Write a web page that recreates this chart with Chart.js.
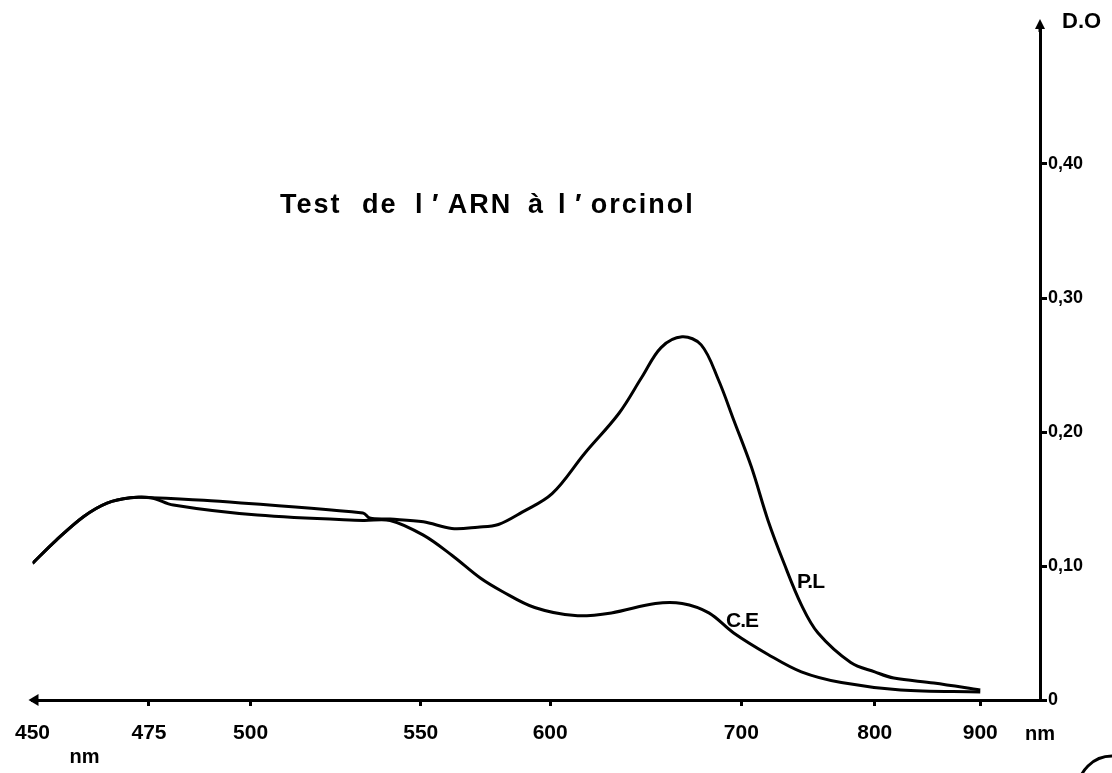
<!DOCTYPE html>
<html>
<head>
<meta charset="utf-8">
<script src="https://cdn.jsdelivr.net/npm/chart.js@4.4.1/dist/chart.umd.min.js"></script>
<style>
  html, body { margin: 0; padding: 0; background: #fff; }
  #wrap { width: 1112px; height: 773px; position: relative; }
  canvas { display: block; }
</style>
</head>
<body>
<div id="wrap"><canvas id="c" width="1112" height="773"></canvas></div>
<script>
// ---- Data ----
const titleWords = ["Test", "de", "l\u2009\u2032\u2009ARN", "à", "l\u2009\u2032\u2009orcinol"];
const xTickNm = [450, 475, 500, 550, 600, 700, 800, 900];
const xTickLabels = ["450", "475", "500", "550", "600", "700", "800", "900"];
const yTickValues = [0, 0.1, 0.2, 0.3, 0.4];

const plName = "P.L";
const plNm  = [450, 455, 461, 466, 471, 475.5, 488.5, 533, 535, 541, 551, 562, 572, 580, 589, 601, 618, 636, 648, 658, 669, 679, 688, 696, 707.5, 720, 732, 745, 757.5, 782, 800, 818, 856, 900];
const plVal = [0.102, 0.119, 0.137, 0.147, 0.151, 0.151, 0.149, 0.1396, 0.1358, 0.135, 0.133, 0.128, 0.129, 0.131, 0.140, 0.154, 0.184, 0.214, 0.241, 0.263, 0.271, 0.265, 0.239, 0.209, 0.174, 0.134, 0.102, 0.071, 0.050, 0.028, 0.021, 0.0164, 0.0127, 0.0075];

const ceName = "C.E";
const ceNm  = [450, 455, 461, 466, 471, 475.5, 481, 502, 533, 541, 551, 562, 573, 581.5, 594, 613, 632, 655, 669, 683, 696, 720, 745, 775, 824.5, 900];
const ceVal = [0.102, 0.119, 0.137, 0.147, 0.151, 0.151, 0.1455, 0.138, 0.134, 0.134, 0.123, 0.108, 0.091, 0.081, 0.069, 0.063, 0.065, 0.072, 0.072, 0.065, 0.050, 0.034, 0.021, 0.013, 0.0075, 0.006];

// ---- Non-uniform wavelength axis of the original (piecewise linear) ----
const axisStopNm  = [450, 475, 500, 550, 600, 700, 800, 900, 957];
const axisStopPos = [0, 117, 219, 390, 520, 712, 846, 952, 1012];
function nmToAxis(nm) {
  for (let i = 0; i < axisStopNm.length - 1; i++) {
    const a = axisStopNm[i], b = axisStopNm[i + 1];
    if (nm <= b || i === axisStopNm.length - 2) {
      const t = (nm - a) / (b - a);
      return axisStopPos[i] + t * (axisStopPos[i + 1] - axisStopPos[i]);
    }
  }
}
const toPoints = (xs, ys) => xs.map((nm, i) => ({ x: nmToAxis(nm), y: ys[i] }));

const FONT = "'Liberation Sans', Arial, Helvetica, sans-serif";
const titleX = [280, 362, 415, 528, 558];

const annotate = {
  id: 'annotate',
  afterDraw(chart) {
    const ctx = chart.ctx;
    const xs = chart.scales.x, ys = chart.scales.y;
    const x0 = xs.left, yAxisX = ys.left, base = ys.getPixelForValue(0), top = ys.top;
    ctx.save();
    ctx.fillStyle = '#000';
    ctx.strokeStyle = '#000';
    // left arrow on x axis
    ctx.beginPath();
    ctx.moveTo(x0 - 4, base);
    ctx.lineTo(x0 + 6, base - 6);
    ctx.lineTo(x0 + 6, base + 6);
    ctx.closePath();
    ctx.fill();
    // top arrow on y axis
    ctx.lineWidth = 3;
    ctx.beginPath();
    ctx.moveTo(yAxisX, top + 2);
    ctx.lineTo(yAxisX, top - 4);
    ctx.stroke();
    ctx.beginPath();
    ctx.moveTo(yAxisX, top - 11);
    ctx.lineTo(yAxisX - 5, top - 1);
    ctx.lineTo(yAxisX + 5, top - 1);
    ctx.closePath();
    ctx.fill();

    // title
    ctx.font = `bold 27px ${FONT}`;
    ctx.letterSpacing = '2px';
    ctx.textBaseline = 'alphabetic';
    ctx.textAlign = 'left';
    titleWords.forEach((w, i) => ctx.fillText(w, titleX[i], 213));
    ctx.letterSpacing = '0px';

    // axis unit labels
    ctx.font = `bold 22px ${FONT}`;
    ctx.textAlign = 'left';
    ctx.textBaseline = 'middle';
    ctx.fillText('D.O', yAxisX + 22, top - 8);
    ctx.textAlign = 'center';
    ctx.font = `bold 20px ${FONT}`;
    ctx.fillText('nm', x0 + 52, base + 57);
    ctx.fillText('nm', yAxisX, base + 34);

    // curve labels
    ctx.font = `bold 21px ${FONT}`;
    ctx.letterSpacing = '-1px';
    ctx.textAlign = 'left';
    ctx.fillText(plName, 797, 582);
    ctx.fillText(ceName, 726, 621);
    ctx.letterSpacing = '0px';

    // page mark circle (bottom right)
    ctx.lineWidth = 3;
    ctx.beginPath();
    ctx.arc(1112, 790, 34, Math.PI * 1.0, Math.PI * 1.5);
    ctx.stroke();
    ctx.restore();
  }
};

const lineStyle = { borderColor: '#000', borderWidth: 3, pointRadius: 0, fill: false, tension: 0.35 };

new Chart(document.getElementById('c'), {
  type: 'line',
  data: {
    datasets: [
      Object.assign({ label: plName, data: toPoints(plNm, plVal) }, lineStyle),
      Object.assign({ label: ceName, data: toPoints(ceNm, ceVal) }, lineStyle)
    ]
  },
  options: {
    responsive: false,
    animation: false,
    devicePixelRatio: 1,
    layout: { padding: { left: 28, top: 30, right: 0, bottom: 0 } },
    plugins: { legend: { display: false }, tooltip: { enabled: false }, title: { display: false } },
    scales: {
      x: {
        type: 'linear',
        min: 0,
        max: axisStopPos[axisStopPos.length - 1],
        afterBuildTicks(scale) { scale.ticks = xTickNm.map(nm => ({ value: nmToAxis(nm) })); },
        afterFit(scale) { scale.height = 73; },
        grid: {
          drawOnChartArea: false, drawTicks: true, tickLength: 6, lineWidth: 3,
          color: ctx => (ctx.index === 0 ? 'rgba(0,0,0,0)' : '#000')
        },
        border: { display: true, color: '#000', width: 3 },
        ticks: {
          autoSkip: false, maxRotation: 0, minRotation: 0, padding: 15, color: '#000',
          font: { family: FONT, size: 21, weight: 'bold' },
          callback: (v, i) => xTickLabels[i]
        }
      },
      y: {
        type: 'linear',
        position: 'right',
        min: 0,
        max: 0.5,
        afterBuildTicks(scale) { scale.ticks = yTickValues.map(v => ({ value: v })); },
        afterFit(scale) { scale.width = 72; },
        grid: { drawOnChartArea: false, drawTicks: true, tickLength: 7, lineWidth: 3, color: '#000' },
        border: { display: true, color: '#000', width: 3 },
        ticks: {
          padding: 1, color: '#000',
          font: { family: FONT, size: 18, weight: 'bold' },
          callback: v => (v === 0 ? '0' : v.toFixed(2).replace('.', ','))
        }
      }
    }
  },
  plugins: [annotate]
});
</script>
</body>
</html>
